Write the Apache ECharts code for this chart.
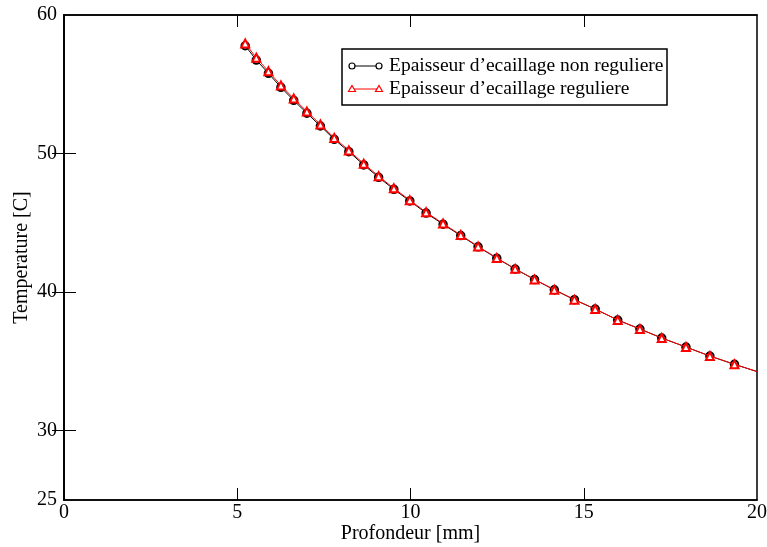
<!DOCTYPE html>
<html>
<head>
<meta charset="utf-8">
<script src="https://cdn.jsdelivr.net/npm/echarts@6/dist/echarts.min.js"></script>
<style>html,body{margin:0;padding:0;background:#fff;}#c{width:767px;height:547px;}</style>
</head>
<body>
<div id="c"></div>
<script>
// depth values (mm) of the plotted points
const depth = [5.23, 5.55, 5.90, 6.26, 6.63, 7.01, 7.40, 7.80, 8.22, 8.65, 9.08, 9.52, 9.98, 10.45, 10.94, 11.45, 11.95, 12.49, 13.02, 13.58, 14.15, 14.73, 15.33, 15.98, 16.62, 17.25, 17.95, 18.64, 19.35];
// temperature, irregular scale thickness
const tempNonReg = [57.78, 56.75, 55.79, 54.78, 53.84, 52.91, 51.99, 51.03, 50.14, 49.18, 48.29, 47.42, 46.58, 45.71, 44.90, 44.08, 43.27, 42.45, 41.67, 40.91, 40.17, 39.46, 38.78, 37.99, 37.34, 36.69, 36.04, 35.39, 34.79];
// temperature, regular scale thickness
const tempReg = [57.95, 56.91, 55.94, 54.92, 53.97, 53.03, 52.10, 51.13, 50.23, 49.27, 48.37, 47.49, 46.64, 45.77, 44.95, 44.12, 43.30, 42.47, 41.68, 40.92, 40.17, 39.46, 38.78, 37.99, 37.34, 36.69, 36.04, 35.39, 34.79];
// line continuation to the right edge (no marker)
const endDepth = 20;
const endNonReg = 34.27;
const endReg = 34.27;
const seriesNames = ["Epaisseur d\u2019ecaillage non reguliere", "Epaisseur d\u2019ecaillage reguliere"];
const xTicks = [0, 5, 10, 15, 20];
const yLabels = [25, 30, 40, 50, 60];
const yTicks = [30, 40, 50];

function build(xs, ys, ex, ey) {
  const d = xs.map((x, i) => [x, ys[i]]);
  d.push({ value: [ex, ey], symbol: 'none' });
  return d;
}

const FONT = 'Liberation Serif';
const FS = 20;
const LFS = 19.5;
const chart = echarts.init(document.getElementById('c'), null, { renderer: 'canvas' });
const tickStyle = { show: true, inside: true, length: 12, lineStyle: { color: '#000', width: 1 } };
const option = {
  backgroundColor: '#fff',
  animation: false,
  grid: { left: 64, right: 10, top: 15, bottom: 47, outerBoundsMode: 'none', containLabel: false, show: true, borderColor: '#000', borderWidth: 1.5, backgroundColor: 'transparent' },
  xAxis: [
    {
      type: 'value', min: 0, max: 20, interval: 5, position: 'bottom',
      name: 'Profondeur [mm]', nameLocation: 'middle', nameGap: 24, nameMoveOverlap: false,
      nameTextStyle: { fontFamily: FONT, fontSize: FS, color: '#000', verticalAlign: 'top' },
      axisLine: { show: true, lineStyle: { color: '#000', width: 1.5 } },
      axisTick: Object.assign({}, tickStyle, { customValues: [5, 10, 15] }),
      axisLabel: { fontFamily: FONT, fontSize: FS, color: '#000', margin: 3, customValues: xTicks },
      splitLine: { show: false }
    },
    {
      type: 'value', min: 0, max: 20, interval: 5, position: 'top',
      axisLine: { show: true, lineStyle: { color: '#000', width: 1.5 } },
      axisTick: Object.assign({}, tickStyle, { customValues: [5, 10, 15] }),
      axisLabel: { show: false },
      splitLine: { show: false }
    }
  ],
  yAxis: [
    {
      type: 'value', min: 25, max: 60, interval: 5, position: 'left',
      name: 'Temperature [C]', nameLocation: 'middle', nameGap: 32, nameMoveOverlap: false,
      nameTextStyle: { fontFamily: FONT, fontSize: FS, color: '#000' },
      axisLine: { show: true, lineStyle: { color: '#000', width: 1.5 } },
      axisTick: Object.assign({}, tickStyle, { customValues: yTicks }),
      axisLabel: { fontFamily: FONT, fontSize: FS, color: '#000', margin: 7, customValues: yLabels },
      splitLine: { show: false }
    },
    {
      type: 'value', min: 25, max: 60, interval: 5, position: 'right',
      axisLine: { show: true, lineStyle: { color: '#000', width: 1.5 } },
      axisTick: Object.assign({}, tickStyle, { customValues: yTicks }),
      axisLabel: { show: false },
      splitLine: { show: false }
    }
  ],
  series: [
    {
      name: seriesNames[0], type: 'line', xAxisIndex: 0, yAxisIndex: 0,
      data: build(depth, tempNonReg, endDepth, endNonReg),
      symbol: 'emptyCircle', symbolSize: 7.5, showAllSymbol: true,
      lineStyle: { color: '#000', width: 1 },
      itemStyle: { color: '#000', borderColor: '#000', borderWidth: 1.2 },
      clip: true, z: 2
    },
    {
      name: seriesNames[1], type: 'line', xAxisIndex: 0, yAxisIndex: 0,
      data: build(depth, tempReg, endDepth, endReg),
      symbol: 'emptyTriangle', symbolSize: 8, showAllSymbol: true,
      lineStyle: { color: '#ff0000', width: 1 },
      itemStyle: { color: '#ff0000', borderColor: '#ff0000', borderWidth: 1.2 },
      clip: true, z: 3
    }
  ],
  graphic: [
    { type: 'rect', shape: { x: 342, y: 49, width: 325, height: 56 }, style: { fill: '#fff', stroke: '#000', lineWidth: 1.5 }, z: 10 },
    { type: 'line', shape: { x1: 351, y1: 66, x2: 379, y2: 66 }, style: { stroke: '#000', lineWidth: 1 }, z: 11 },
    { type: 'circle', shape: { cx: 352, cy: 66, r: 3 }, style: { fill: '#fff', stroke: '#000', lineWidth: 1.2 }, z: 12 },
    { type: 'circle', shape: { cx: 379, cy: 66, r: 3 }, style: { fill: '#fff', stroke: '#000', lineWidth: 1.2 }, z: 12 },
    { type: 'text', x: 389, y: 66, style: { text: seriesNames[0], fontFamily: FONT, fontSize: LFS, fill: '#000', verticalAlign: 'middle' }, z: 12 },
    { type: 'line', shape: { x1: 351, y1: 89, x2: 379, y2: 89 }, style: { stroke: '#ff0000', lineWidth: 1 }, z: 11 },
    { type: 'polygon', shape: { points: [[352, 85.5], [355.5, 91.5], [348.5, 91.5]] }, style: { fill: '#fff', stroke: '#ff0000', lineWidth: 1.2 }, z: 12 },
    { type: 'polygon', shape: { points: [[379, 85.5], [382.5, 91.5], [375.5, 91.5]] }, style: { fill: '#fff', stroke: '#ff0000', lineWidth: 1.2 }, z: 12 },
    { type: 'text', x: 389, y: 89, style: { text: seriesNames[1], fontFamily: FONT, fontSize: LFS, fill: '#000', verticalAlign: 'middle' }, z: 12 }
  ]
};
chart.setOption(option);
</script>
</body>
</html>
